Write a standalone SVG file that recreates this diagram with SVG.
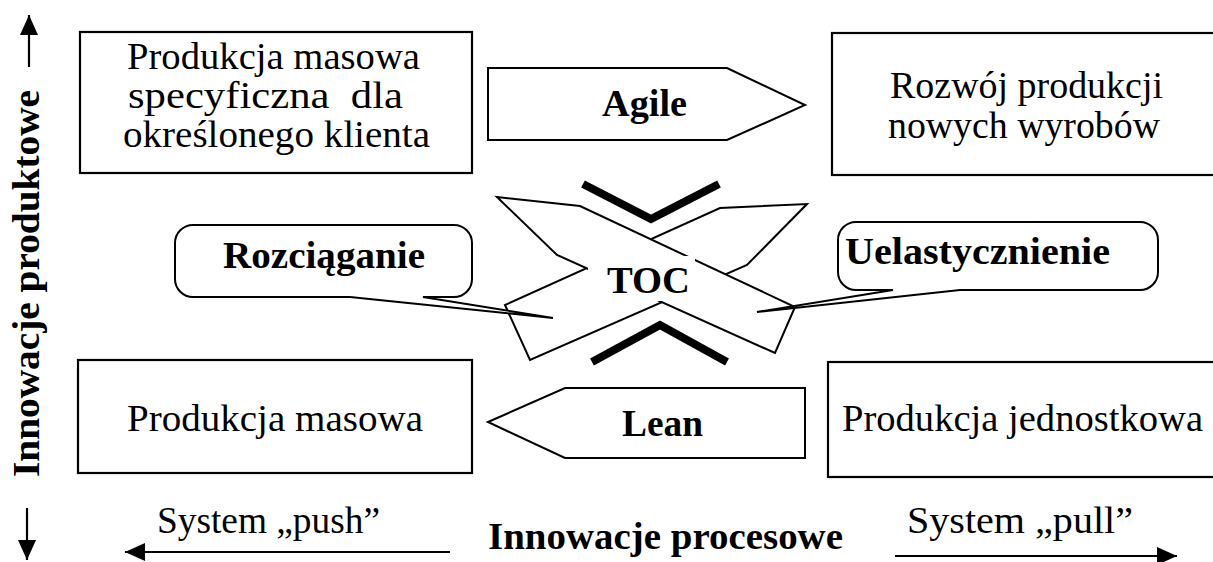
<svg xmlns="http://www.w3.org/2000/svg" width="1213" height="562" viewBox="0 0 1213 562">
  <defs>
    <style>
      .box { fill: #fff; stroke: #000; stroke-width: 2.2; }
      .shape { fill: #fff; stroke: #000; stroke-width: 2; stroke-linejoin: miter; }
      .chev { fill: none; stroke: #000; stroke-width: 8; stroke-linejoin: miter; }
      .axis { fill: none; stroke: #000; stroke-width: 2.2; }
      text { font-size: 38px; fill: #000; }
      .b { font-weight: bold; font-size: 37px; }
    </style>
    <marker id="head" viewBox="0 0 20 18" refX="20" refY="9" markerWidth="20" markerHeight="18" markerUnits="userSpaceOnUse" orient="auto">
      <path d="M0,0 L20,9 L0,18 Z" fill="#000"/>
    </marker>
  </defs>

  <rect width="1213" height="562" fill="#fff"/>

  <!-- axes -->
  <g id="connectors">
    <line class="axis" x1="29" y1="67" x2="29" y2="15" marker-end="url(#head)"/>
    <line class="axis" x1="27" y1="508" x2="27" y2="560" marker-end="url(#head)"/>
    <line class="axis" x1="450" y1="552" x2="125" y2="552" marker-end="url(#head)"/>
    <line class="axis" x1="895" y1="556" x2="1177" y2="556" marker-end="url(#head)"/>
  </g>

  <g font-family="Liberation Serif, Tinos, Times New Roman, Times, serif">
  <g id="axis-labels">
    <text class="b" transform="translate(39,477) rotate(-90)" x="0" y="0" textLength="387" lengthAdjust="spacingAndGlyphs">Innowacje produktowe</text>
    <text class="b" x="488" y="549" textLength="355" lengthAdjust="spacingAndGlyphs">Innowacje procesowe</text>
    <text x="157" y="533" textLength="223" lengthAdjust="spacingAndGlyphs">System „push”</text>
    <text x="907" y="533" textLength="226" lengthAdjust="spacingAndGlyphs">System „pull”</text>
  </g>

  <g id="mass-custom">
    <rect class="box" x="80" y="32" width="392" height="141"/>
    <text x="127" y="69" textLength="293" lengthAdjust="spacingAndGlyphs">Produkcja masowa</text>
    <text x="128" y="108" textLength="275" lengthAdjust="spacingAndGlyphs" xml:space="preserve">specyficzna  dla</text>
    <text x="123" y="147" textLength="307" lengthAdjust="spacingAndGlyphs">określonego klienta</text>
  </g>

  <g id="new-products">
    <rect class="box" x="832" y="33" width="384" height="142"/>
    <text x="890" y="98" textLength="273" lengthAdjust="spacingAndGlyphs">Rozwój produkcji</text>
    <text x="888" y="138" textLength="272" lengthAdjust="spacingAndGlyphs">nowych wyrobów</text>
  </g>

  <g id="mass">
    <rect class="box" x="78" y="360" width="394" height="113"/>
    <text x="127" y="431" textLength="296" lengthAdjust="spacingAndGlyphs">Produkcja masowa</text>
  </g>

  <g id="unit">
    <rect class="box" x="828" y="362" width="388" height="115"/>
    <text x="842" y="431" textLength="361" lengthAdjust="spacingAndGlyphs">Produkcja jednostkowa</text>
  </g>

  <g id="agile">
    <polygon class="shape" points="488,68 727,68 805,105 727,140 488,140"/>
    <text class="b" x="602" y="116" textLength="85" lengthAdjust="spacingAndGlyphs">Agile</text>
  </g>

  <g id="lean">
    <polygon class="shape" points="488,422 565,388 805,388 805,458 565,458"/>
    <text class="b" x="622" y="436" textLength="81" lengthAdjust="spacingAndGlyphs">Lean</text>
  </g>

  <g id="toc">
    <polygon class="shape" points="505,305 530,360 747,265 807,204 720,208"/>
    <polygon class="shape" points="497,197 580,206 795,307 775,353 557,255"/>
    <rect x="588" y="256" width="107" height="45" fill="#fff"/>
    <text class="b" x="607" y="293" textLength="83" lengthAdjust="spacingAndGlyphs">TOC</text>
    <polyline class="chev" points="583,184 651,219 719,184"/>
    <polyline class="chev" points="592,362 660,325 727,362"/>
  </g>

  <g id="stretching">
    <path class="shape" d="M193,225 H454 A18,18 0 0 1 472,243 V279 A18,18 0 0 1 454,297 H423 L553,318 L350,297 H193 A18,18 0 0 1 175,279 V243 A18,18 0 0 1 193,225 Z"/>
    <text class="b" x="223" y="268" textLength="202" lengthAdjust="spacingAndGlyphs">Rozciąganie</text>
  </g>

  <g id="flexibility">
    <path class="shape" d="M856,222 H1140 A18,18 0 0 1 1158,240 V272 A18,18 0 0 1 1140,290 H960 L757,312 L893,290 H856 A18,18 0 0 1 838,272 V240 A18,18 0 0 1 856,222 Z"/>
    <text class="b" x="845" y="264" textLength="265" lengthAdjust="spacingAndGlyphs">Uelastycznienie</text>
  </g>
  </g>
</svg>
